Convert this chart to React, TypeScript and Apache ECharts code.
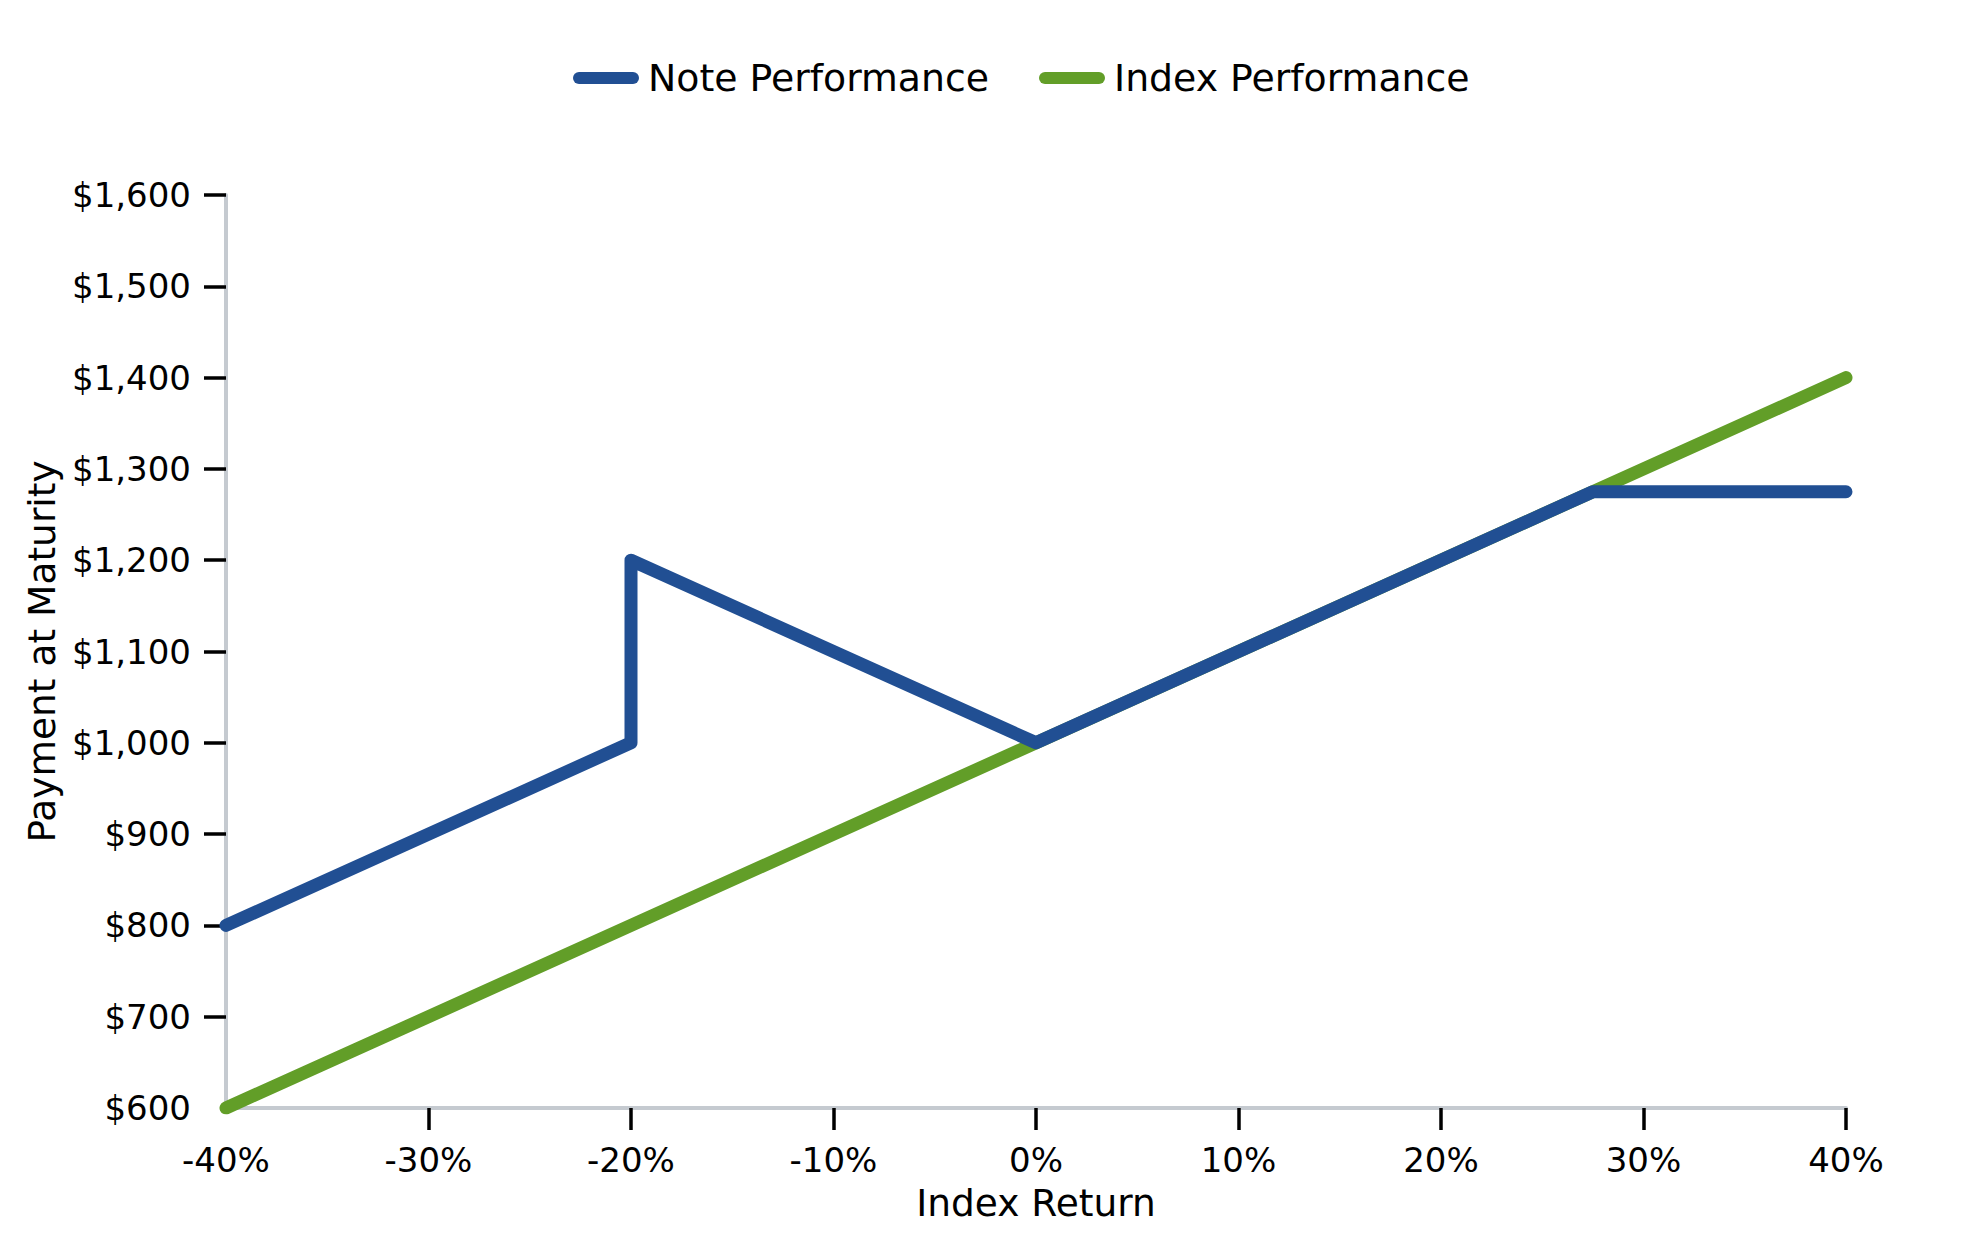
import React, { useEffect, useRef } from "react";
import * as echarts from "echarts";

const noteReturns = [-40, -20, -20, 0, 27.5, 40];
const noteValues = [800, 1000, 1200, 1000, 1275, 1275];
const indexReturns = [-40, 40];
const indexValues = [600, 1400];
const xTicks = [-30, -20, -10, 0, 10, 20, 30, 40];
const yTicks = [700, 800, 900, 1000, 1100, 1200, 1300, 1400, 1500, 1600];

const BLUE = "#214f93";
const GREEN = "#629e28";
const FONT = "DejaVu Sans";
const pill = "path://M6,0H60A6,6,0,0,1,60,12H6A6,6,0,0,1,6,0Z";

export default function App() {
  const ref = useRef<HTMLDivElement>(null);
  useEffect(() => {
    if (!ref.current) return;
    const chart = echarts.init(ref.current, null, { renderer: "svg" });
    chart.setOption({
      animation: false,
      backgroundColor: "#ffffff",
      textStyle: { fontFamily: FONT },
      legend: {
        left: 568,
        top: 54,
        icon: pill,
        itemWidth: 66,
        itemHeight: 12,
        itemGap: 50,
        textStyle: { fontFamily: FONT, fontSize: 37.8, color: "#000", padding: [0, 0, 0, 4] },
        data: ["Note Performance", "Index Performance"],
      },
      grid: { left: 226, right: 133, top: 195, bottom: 142, containLabel: false },
      xAxis: {
        type: "value",
        min: -40,
        max: 40,
        interval: 10,
        name: "Index Return",
        nameLocation: "middle",
        nameGap: 76,
        nameTextStyle: { fontFamily: FONT, fontSize: 37.5, color: "#000" },
        axisLine: { show: true, onZero: false, lineStyle: { color: "#c5cad0", width: 4 } },
        axisTick: { show: true, length: 22, customValues: xTicks, lineStyle: { color: "#000", width: 3.5 } },
        axisLabel: {
          fontFamily: FONT,
          fontSize: 34,
          color: "#000",
          margin: 35,
          formatter: (v: number) => `${v}%`,
        },
        splitLine: { show: false },
      },
      yAxis: {
        type: "value",
        min: 600,
        max: 1600,
        interval: 100,
        name: "Payment at Maturity",
        nameLocation: "middle",
        nameRotate: 90,
        nameGap: 162,
        nameTextStyle: { fontFamily: FONT, fontSize: 37.5, color: "#000" },
        axisLine: { show: true, onZero: false, lineStyle: { color: "#c5cad0", width: 4 } },
        axisTick: { show: true, length: 22, customValues: yTicks, lineStyle: { color: "#000", width: 3.5 } },
        axisLabel: {
          fontFamily: FONT,
          fontSize: 34,
          color: "#000",
          margin: 35,
          formatter: (v: number) => "$" + v.toLocaleString("en-US"),
        },
        splitLine: { show: false },
      },
      series: [
        {
          name: "Note Performance",
          type: "line",
          z: 3,
          symbol: "none",
          color: BLUE,
          lineStyle: { color: BLUE, width: 13, cap: "round", join: "round" },
          data: noteReturns.map((r, i) => [r, noteValues[i]]),
        },
        {
          name: "Index Performance",
          type: "line",
          z: 2,
          symbol: "none",
          color: GREEN,
          lineStyle: { color: GREEN, width: 13, cap: "round", join: "round" },
          data: indexReturns.map((r, i) => [r, indexValues[i]]),
        },
      ],
    });
    return () => chart.dispose();
  }, []);
  return (
    <div
      ref={ref}
      style={{ position: "fixed", left: 0, top: 0, width: 1979, height: 1250, background: "#fff" }}
    />
  );
}
